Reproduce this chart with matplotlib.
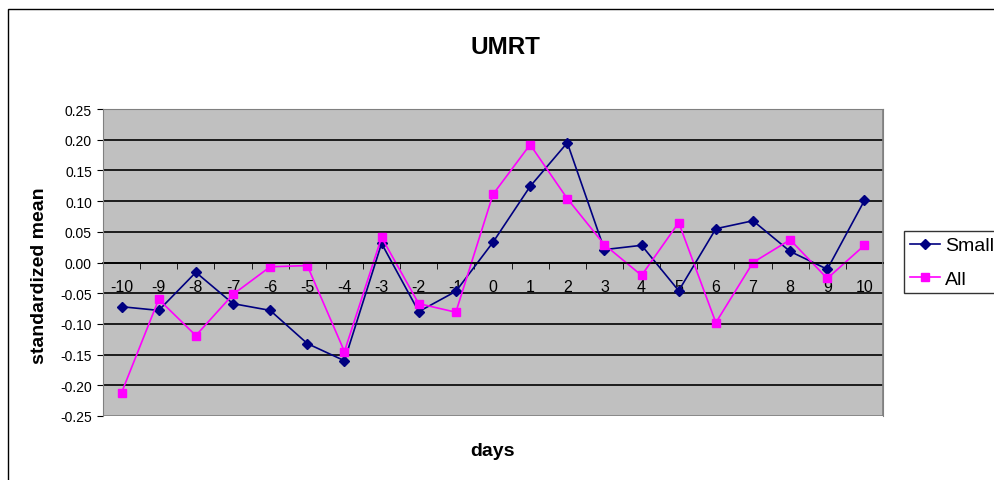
import numpy as np
import matplotlib.pyplot as plt
from matplotlib.patches import Rectangle

plt.rcParams['font.family'] = ['Liberation Sans', 'DejaVu Sans']

days = list(range(-10, 11))
small = [-0.072, -0.078, -0.016, -0.067, -0.078, -0.132, -0.160, 0.031, -0.080, -0.047,
         0.033, 0.124, 0.195, 0.021, 0.028, -0.046, 0.055, 0.068, 0.018, -0.011, 0.101]
all_vals = [-0.212, -0.060, -0.119, -0.052, -0.007, -0.005, -0.145, 0.041, -0.067, -0.081,
            0.111, 0.192, 0.104, 0.029, -0.021, 0.065, -0.098, 0.000, 0.037, -0.026, 0.028]

fig = plt.figure(figsize=(9.95, 4.81), dpi=100)
ax = fig.add_axes([103 / 995, 1 - 417 / 481, 780 / 995, 307 / 481])
ax.set_facecolor('#c0c0c0')

x = np.arange(len(days))
ax.plot(x, small, color='#000080', marker='D', markersize=5, lw=1.2, label='Small')
ax.plot(x, all_vals, color='#ff00ff', marker='s', markersize=6, lw=1.2, label='All')

ax.set_xlim(-0.5, len(days) - 0.5)
ax.set_ylim(-0.25, 0.25)
yt = np.round(np.arange(-0.25, 0.2501, 0.05), 2)
ax.set_yticks(yt)
ax.set_yticklabels([f'{v + 0.0:.2f}' for v in yt], fontsize=10)
for v in yt[1:-1]:
    ax.axhline(v, color='black', lw=1.2, zorder=0.5)

# category axis drawn across the zero line
ax.spines['bottom'].set_position(('data', 0))
ax.spines['bottom'].set_linewidth(1.2)
ax.set_xticks(x)
ax.set_xticklabels([str(d) for d in days], fontsize=11.5)
ax.set_xticks(np.arange(-0.5, len(days)), minor=True)
ax.tick_params(axis='x', which='major', length=0, pad=12)
ax.tick_params(axis='x', which='minor', length=4, direction='out')
ax.tick_params(axis='y', length=4, direction='out', pad=4)
for s in ['top', 'right']:
    ax.spines[s].set_color('#808080')
ax.spines['left'].set_color('#808080')
ax.add_patch(Rectangle((0, 0), 1, 1, transform=ax.transAxes, fill=False,
                       edgecolor='#808080', lw=1.2, zorder=3))

fig.text(505 / 995, 1 - 47 / 481, 'UMRT', ha='center', va='center',
         fontsize=17.5, fontweight='bold')
fig.text(40 / 995, 1 - 276 / 481, 'standardized mean', ha='center', va='center',
         rotation=90, fontsize=14, fontweight='bold')
fig.text(493 / 995, 1 - 452 / 481, 'days', ha='center', va='center',
         fontsize=14, fontweight='bold')

leg = fig.legend(loc='upper left', bbox_to_anchor=(904 / 995, 1 - 232 / 481),
                 fontsize=14, frameon=True, fancybox=False, handlelength=1.55,
                 borderpad=0.3, labelspacing=0.8, handletextpad=0.25, borderaxespad=0)
leg.get_frame().set_edgecolor('black')
leg.get_frame().set_linewidth(1.0)

fig.add_artist(Rectangle((8 / 995, -0.1), 1.2, 1 - 10 / 481 + 0.1,
                         transform=fig.transFigure, fill=False, edgecolor='black', lw=1.0))

fig.savefig('out.png', dpi=100)
